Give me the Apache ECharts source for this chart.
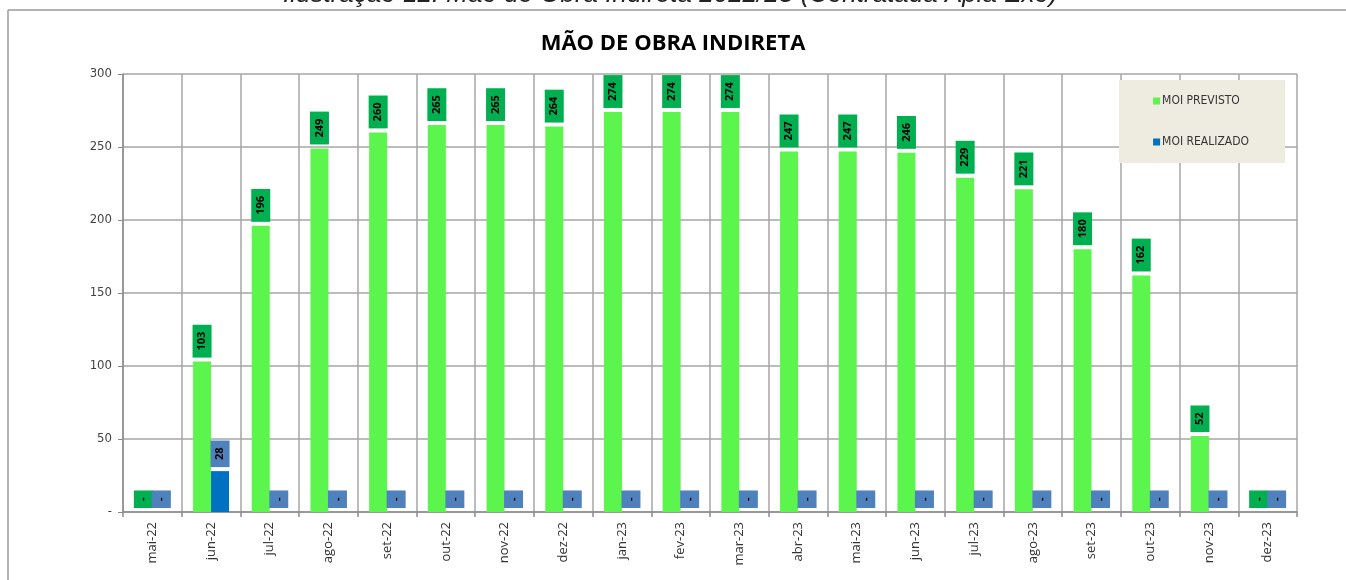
<!DOCTYPE html>
<html>
<head>
<meta charset="utf-8">
<title>MOI</title>
<script src="https://cdn.jsdelivr.net/npm/echarts@6/dist/echarts.min.js"></script>
<style>
html, body { margin: 0; padding: 0; background: #fff; }
#chart { width: 1346px; height: 580px; }
</style>
</head>
<body>
<div id="chart"></div>
<script>
// meses
var months = ['mai-22', 'jun-22', 'jul-22', 'ago-22', 'set-22', 'out-22', 'nov-22', 'dez-22',
  'jan-23', 'fev-23', 'mar-23', 'abr-23', 'mai-23', 'jun-23', 'jul-23', 'ago-23',
  'set-23', 'out-23', 'nov-23', 'dez-23'];
var moiPrevisto = [0, 103, 196, 249, 260, 265, 265, 264, 274, 274, 274, 247, 247, 246, 229, 221, 180, 162, 52, 0];
var moiRealizado = [0, 28, 0, 0, 0, 0, 0, 0, 0, 0, 0, 0, 0, 0, 0, 0, 0, 0, 0, 0];

var narrow = "'Liberation Sans Narrow', 'DejaVu Sans Condensed', sans-serif";

function barLabel(bg) {
  return {
    show: true,
    position: 'top',
    distance: 4,
    rotate: 90,
    align: 'left',
    verticalAlign: 'middle',
    backgroundColor: bg,
    padding: [4, 7, 4, 7],
    color: '#000',
    fontWeight: 'bold',
    fontSize: 11,
    fontFamily: 'Open Sans, sans-serif',
    formatter: function (p) { return p.value === 0 ? '-' : p.value; }
  };
}

var chart = echarts.init(document.getElementById('chart'));
chart.setOption({
  animation: false,
  title: {
    text: 'MÃO DE OBRA INDIRETA',
    left: 'center',
    top: 28,
    textStyle: { fontFamily: 'Open Sans, sans-serif', fontWeight: 'bold', fontSize: 22, color: '#000' }
  },
  graphic: [
    { type: 'line', shape: { x1: 8, y1: 10, x2: 1346, y2: 10 }, style: { stroke: '#9a9a9a', lineWidth: 1.5 } },
    { type: 'line', shape: { x1: 8, y1: 10, x2: 8, y2: 580 }, style: { stroke: '#9a9a9a', lineWidth: 1.5 } },
    {
      type: 'text', x: 283, y: -18,
      style: {
        text: 'Ilustração 12: Mão de Obra Indireta 2022/23 (Contratada Apia Exo)',
        font: 'italic 26px "Liberation Sans", Arial, sans-serif',
        fill: '#222'
      }
    }
  ],
  legend: {
    orient: 'vertical',
    right: 61,
    top: 80,
    width: 166,
    padding: [15, 36, 15, 34],
    itemGap: 29,
    itemWidth: 7,
    itemHeight: 7,
    backgroundColor: '#eeece1',
    icon: 'rect',
    textStyle: { fontFamily: narrow, fontSize: 12, color: '#333', padding: [0, 0, 0, -3] },
    data: ['MOI PREVISTO', 'MOI REALIZADO']
  },
  grid: { left: 123, right: 49, top: 74, bottom: 68 },
  xAxis: {
    type: 'category',
    data: months,
    axisLine: { lineStyle: { color: '#8c8c8c', width: 1.5 } },
    axisTick: { show: true, length: 5, lineStyle: { color: '#8c8c8c', width: 1.5 } },
    splitLine: { show: true, lineStyle: { color: '#a6a6a6', width: 1.5 } },
    axisLabel: { rotate: 90, fontSize: 13, color: '#333', margin: 10, fontFamily: 'Open Sans, sans-serif' }
  },
  yAxis: {
    type: 'value',
    min: 0,
    max: 300,
    interval: 50,
    axisLine: { show: true, lineStyle: { color: '#8c8c8c', width: 1.5 } },
    axisTick: { show: true, length: 5, lineStyle: { color: '#8c8c8c' } },
    splitLine: { lineStyle: { color: '#a6a6a6', width: 1.5 } },
    axisLabel: {
      fontSize: 13, color: '#444', margin: 11, fontFamily: narrow,
      formatter: function (v) { return v === 0 ? '-' : v; }
    }
  },
  series: [
    {
      name: 'MOI PREVISTO',
      type: 'bar',
      data: moiPrevisto,
      barWidth: 18,
      barGap: '0%',
      itemStyle: { color: '#5cf54e' },
      label: barLabel('#00b050')
    },
    {
      name: 'MOI REALIZADO',
      type: 'bar',
      data: moiRealizado,
      barWidth: 18,
      itemStyle: { color: '#0070c0' },
      label: barLabel('#4f81bd')
    }
  ]
});
</script>
</body>
</html>
